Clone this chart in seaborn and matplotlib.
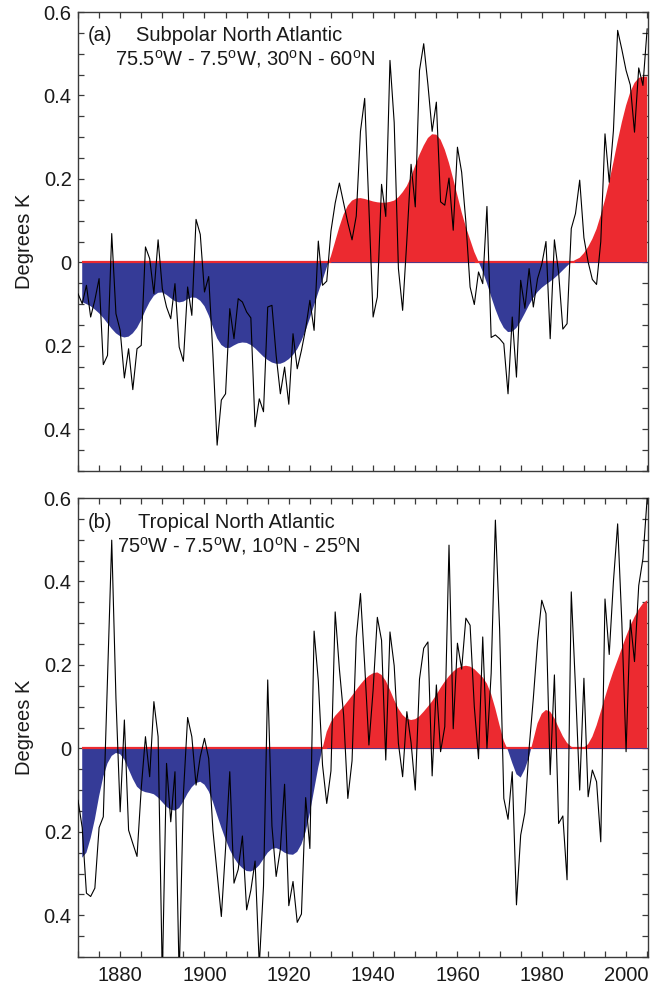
import numpy as np
import pandas as pd
import matplotlib
matplotlib.use("Agg")
import matplotlib.pyplot as plt
from matplotlib.ticker import MultipleLocator, FixedLocator, FixedFormatter
import seaborn as sns

# ---------------- data ----------------
years = list(range(1870, 2006))
smooth_years = list(range(1871, 2006))

subpolar_annual = [
    -0.075, -0.099, -0.055, -0.131, -0.090, -0.039, -0.245, -0.223, 0.069, -0.123,
    -0.163, -0.277, -0.207, -0.305, -0.207, -0.199, 0.037, 0.009, -0.075, 0.054,
    -0.063, -0.107, -0.135, -0.051, -0.203, -0.237, -0.059, -0.127, 0.103, 0.067,
    -0.071, -0.034, -0.220, -0.438, -0.330, -0.315, -0.111, -0.183, -0.087, -0.095,
    -0.119, -0.133, -0.394, -0.327, -0.358, -0.107, -0.103, -0.223, -0.315, -0.251,
    -0.340, -0.171, -0.255, -0.211, -0.159, -0.091, -0.163, 0.051, -0.055, -0.045,
    0.075, 0.142, 0.190, 0.143, 0.095, 0.054, 0.111, 0.314, 0.393, 0.133,
    -0.131, -0.083, 0.187, 0.110, 0.484, 0.335, -0.015, -0.115, 0.053, 0.235,
    0.133, 0.460, 0.524, 0.426, 0.314, 0.384, 0.145, 0.137, 0.202, 0.077,
    0.276, 0.216, 0.097, -0.059, -0.101, -0.023, -0.051, 0.134, -0.180, -0.174,
    -0.183, -0.195, -0.315, -0.131, -0.275, -0.043, -0.110, -0.015, -0.107, -0.039,
    -0.005, 0.050, -0.183, 0.054, -0.025, -0.160, -0.147, 0.081, 0.117, 0.197,
    0.059, 0.001, -0.041, -0.053, 0.050, 0.308, 0.192, 0.316, 0.556, 0.510,
    0.460, 0.425, 0.312, 0.466, 0.424, 0.560,
]

subpolar_smooth = [
    -0.095, -0.100, -0.105, -0.113, -0.122, -0.133, -0.146, -0.159, -0.170,
    -0.177, -0.180, -0.178, -0.170, -0.157, -0.138, -0.115, -0.095, -0.080, -0.073,
    -0.072, -0.078, -0.086, -0.093, -0.096, -0.094, -0.088, -0.084, -0.085, -0.092,
    -0.105, -0.127, -0.155, -0.182, -0.198, -0.205, -0.205, -0.199, -0.194, -0.192,
    -0.193, -0.198, -0.206, -0.216, -0.226, -0.234, -0.240, -0.243, -0.243, -0.239,
    -0.232, -0.222, -0.208, -0.188, -0.163, -0.134, -0.103, -0.072, -0.043, -0.012,
    0.015, 0.050, 0.085, 0.115, 0.136, 0.148, 0.153, 0.154, 0.152, 0.149,
    0.146, 0.144, 0.143, 0.143, 0.145, 0.148, 0.156, 0.168, 0.183, 0.205,
    0.232, 0.258, 0.280, 0.298, 0.307, 0.306, 0.294, 0.270, 0.238, 0.200,
    0.160, 0.120, 0.085, 0.055, 0.025, 0.002, -0.022, -0.050, -0.082, -0.112,
    -0.138, -0.157, -0.167, -0.166, -0.157, -0.141, -0.122, -0.102, -0.085, -0.071,
    -0.061, -0.053, -0.046, -0.038, -0.029, -0.019, -0.009, 0.000, 0.006, 0.011,
    0.022, 0.037, 0.056, 0.080, 0.113, 0.150, 0.193, 0.240, 0.290, 0.336,
    0.376, 0.408, 0.430, 0.442, 0.445, 0.445,
]

tropical_annual = [
    -0.124, -0.190, -0.347, -0.355, -0.335, -0.190, -0.164, 0.170, 0.499, 0.120,
    -0.152, 0.068, -0.196, -0.228, -0.259, -0.096, 0.028, -0.068, 0.112, 0.028,
    -0.550, -0.036, -0.176, -0.056, -0.550, -0.110, 0.074, 0.028, -0.088, -0.020,
    0.024, -0.024, -0.196, -0.299, -0.403, -0.240, -0.056, -0.323, -0.290, -0.210,
    -0.387, -0.340, -0.270, -0.520, -0.330, 0.164, -0.186, -0.307, -0.242, -0.086,
    -0.377, -0.319, -0.417, -0.397, -0.118, -0.240, 0.281, 0.162, -0.040, -0.132,
    -0.054, 0.327, 0.190, 0.080, -0.120, -0.030, 0.265, 0.371, 0.200, 0.008,
    0.140, 0.314, 0.259, -0.028, 0.279, 0.198, 0.012, -0.068, 0.088, 0.014,
    -0.100, 0.166, 0.240, 0.255, -0.066, 0.152, -0.008, 0.052, 0.487, 0.047,
    0.252, 0.190, 0.312, 0.295, 0.100, -0.025, 0.267, 0.000, 0.180, 0.547,
    0.287, -0.120, -0.170, -0.056, -0.375, -0.208, -0.154, 0.000, 0.120, 0.255,
    0.355, 0.323, -0.063, 0.176, -0.180, -0.162, -0.315, 0.375, 0.146, -0.100,
    0.168, -0.116, -0.052, -0.080, -0.224, 0.358, 0.225, 0.400, 0.538, 0.300,
    -0.008, 0.308, 0.208, 0.390, 0.455, 0.600,
]

tropical_smooth = [
    -0.262, -0.250, -0.215, -0.170, -0.115, -0.068, -0.036, -0.018, -0.011,
    -0.014, -0.027, -0.050, -0.073, -0.092, -0.101, -0.105, -0.107, -0.110, -0.118,
    -0.129, -0.140, -0.147, -0.149, -0.143, -0.127, -0.108, -0.093, -0.083, -0.080,
    -0.087, -0.103, -0.128, -0.160, -0.190, -0.218, -0.243, -0.262, -0.277, -0.287,
    -0.294, -0.295, -0.290, -0.280, -0.265, -0.250, -0.241, -0.239, -0.243, -0.250,
    -0.254, -0.255, -0.248, -0.230, -0.200, -0.155, -0.100, -0.045, 0.000, 0.040,
    0.063, 0.078, 0.089, 0.100, 0.113, 0.126, 0.140, 0.153, 0.165, 0.174,
    0.180, 0.182, 0.176, 0.162, 0.140, 0.116, 0.095, 0.080, 0.071, 0.068,
    0.070, 0.077, 0.088, 0.100, 0.113, 0.128, 0.145, 0.160, 0.173, 0.184,
    0.192, 0.196, 0.198, 0.196, 0.190, 0.180, 0.170, 0.155, 0.130, 0.095,
    0.055, 0.018, -0.005, -0.035, -0.062, -0.070, -0.050, -0.020, 0.020, 0.060,
    0.083, 0.092, 0.088, 0.072, 0.050, 0.029, 0.013, 0.004, 0.001, 0.000,
    0.002, 0.010, 0.028, 0.055, 0.088, 0.122, 0.155, 0.185, 0.212, 0.240,
    0.268, 0.293, 0.315, 0.333, 0.347, 0.355,
]

panel_letters = ["(a)", "(b)"]
panel_titles = ["Subpolar North Atlantic", "Tropical North Atlantic"]
panel_regions = [
    r"75.5$^{o}$W - 7.5$^{o}$W, 30$^{o}$N - 60$^{o}$N",
    r"75$^{o}$W - 7.5$^{o}$W, 10$^{o}$N - 25$^{o}$N",
]
ytick_values = [-0.4, -0.2, 0.0, 0.2, 0.4, 0.6]
ytick_labels = ["0.4", "0.2", "0", "0.2", "0.4", "0.6"]
xtick_values = [1880, 1900, 1920, 1940, 1960, 1980, 2000]
xtick_labels = ["1880", "1900", "1920", "1940", "1960", "1980", "2000"]

# ---------------- style ----------------
sns.set_style("ticks")
plt.rcParams["font.family"] = ["Liberation Sans", "DejaVu Sans"]
plt.rcParams["mathtext.default"] = "regular"

RED = "#ec2a30"
BLUE = "#353b97"
EDGE = "#3a3a3a"
TXT = "#1a1a1a"
FS = 14.5

fig = plt.figure(figsize=(6.6, 9.89), dpi=100)
ax_top = fig.add_axes([78 / 660, 1 - 471 / 989, 570 / 660, 459 / 989])
ax_bot = fig.add_axes([78 / 660, 1 - 957 / 989, 570 / 660, 459 / 989])

# (axes, annual, smooth, title x, line-1 baseline y, region x, line-2 baseline y)
panels = [
    (ax_top, subpolar_annual, subpolar_smooth, 0.102, 0.937, 0.065, 0.8845),
    (ax_bot, tropical_annual, tropical_smooth, 0.105, 0.9346, 0.068, 0.882),
]

for k, (ax, annual, smooth, tx, ty1, rx, ty2) in enumerate(panels):
    sm = np.array(smooth)
    sy = np.array(smooth_years)
    ax.fill_between(sy, sm, 0, where=sm >= 0, interpolate=True,
                    color=RED, lw=0, zorder=2)
    ax.fill_between(sy, sm, 0, where=sm <= 0, interpolate=True,
                    color=BLUE, lw=0, zorder=2)
    ax.plot(sy, np.zeros_like(sm), color=RED, lw=1.6, zorder=2.5,
            solid_capstyle="butt")
    base = np.where(sm > 0.003, 0.0, np.nan)
    ax.plot(sy, base, color=BLUE, lw=0.6, zorder=2.6)

    df = pd.DataFrame({"year": years, "anom": annual})
    sns.lineplot(data=df, x="year", y="anom", ax=ax, color="black",
                 lw=0.8, zorder=4)

    ax.set_xlim(1870, 2005.2)
    ax.set_ylim(-0.5, 0.6)
    ax.yaxis.set_major_locator(FixedLocator(ytick_values))
    ax.yaxis.set_major_formatter(FixedFormatter(ytick_labels))
    ax.yaxis.set_minor_locator(MultipleLocator(0.05))
    ax.xaxis.set_major_locator(FixedLocator(xtick_values))
    ax.xaxis.set_minor_locator(MultipleLocator(5))
    if k == 1:
        ax.xaxis.set_major_formatter(FixedFormatter(xtick_labels))
    else:
        ax.set_xticklabels([])
    ax.tick_params(which="both", direction="in", top=True, right=True,
                   length=4, width=0.9, color=EDGE, labelsize=FS,
                   labelcolor=TXT)
    ax.tick_params(axis="y", pad=4.5)
    ax.tick_params(axis="x", pad=6.5)
    for s in ax.spines.values():
        s.set_color(EDGE)
        s.set_linewidth(1.0)
        s.set_visible(True)
    ax.set_xlabel("")
    ax.set_ylabel("Degrees K", fontsize=FS, color=TXT)
    ax.yaxis.set_label_coords(-0.093, 0.5)
    ax.yaxis.label.set_va("center")

    ax.text(0.0175, ty1, panel_letters[k], transform=ax.transAxes,
            fontsize=FS, va="baseline", ha="left", color=TXT)
    ax.text(tx, ty1, panel_titles[k], transform=ax.transAxes,
            fontsize=FS, va="baseline", ha="left", color=TXT)
    ax.text(rx, ty2, panel_regions[k], transform=ax.transAxes,
            fontsize=FS, va="baseline", ha="left", color=TXT)

fig.savefig("out.png", dpi=100)
